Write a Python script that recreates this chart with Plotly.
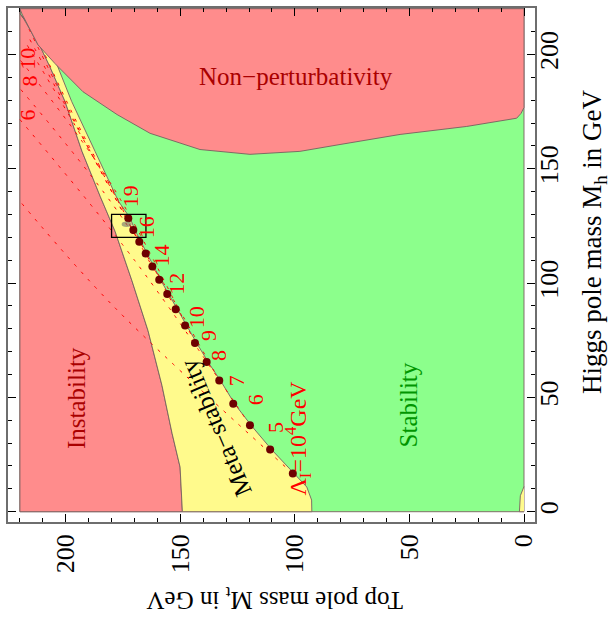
import plotly.graph_objects as go

# ---------------- data (Mt = top pole mass, Mh = Higgs pole mass, GeV) ----------------
# boundary instability / meta-stability (bottom -> top)
inst_mt = [149.1, 150.1, 153.6, 158.0, 164.1, 171.1, 178.5, 185.0, 192.9, 200.3, 206.9, 212.1, 216.5, 219.9]
inst_mh = [0.0, 19.5, 34.3, 55.2, 79.2, 101.0, 122.7, 138.0, 157.6, 179.4, 194.6, 205.5, 213.4, 217.7]

# boundary meta-stability / stability (bottom -> top)
stab_mt = [92.6, 92.7, 94.8, 99.9, 110.0, 118.7, 126.1, 132.2, 137.7, 142.7, 147.1, 151.2, 154.9,
           158.4, 161.5, 164.3, 167.1, 169.8, 171.9, 177.0, 187.2, 197.4, 206.1, 212.1, 215.6, 219.1]
stab_mh = [0.0, 5.1, 10.8, 16.5, 27.0, 37.3, 46.9, 56.9, 65.2, 73.5, 80.9, 88.3, 94.9,
           101.0, 107.1, 112.7, 117.9, 123.2, 128.4, 135.8, 157.6, 179.4, 201.2, 204.2, 210.8, 216.9]

# boundary of non-perturbativity (left -> right)
pert_mt = [219.1, 212.1, 204.7, 192.5, 177.6, 163.2, 148.8, 141.4, 119.6, 97.8, 80.3, 54.1, 25.0, 3.2, 1.3, 0.0]
pert_mh = [217.7, 204.2, 196.0, 183.7, 173.7, 165.5, 160.6, 158.4, 156.3, 157.6, 160.6, 165.0, 168.5, 172.1, 174.2, 176.8]

# small meta-stable sliver at Mt ~ 0
sliver_mt = [0.0, 2.0, 1.6, 0.0]
sliver_mh = [0.0, 0.0, 7.0, 11.0]

# instability scale log10(Lambda_I / GeV) at the dots on the stability boundary
dot_n = [19, 18, 17, 16, 15, 14, 13, 12, 11, 10, 9, 8, 7, 6, 5, 4]
dot_mt = [172.7, 170.5, 167.9, 165.1, 162.2, 159.2, 155.7, 152.0, 147.9, 143.6, 138.5, 133.0, 126.9, 119.6, 110.8, 100.9]
dot_mh = [128.3, 123.2, 118.1, 112.9, 107.2, 101.4, 95.2, 88.5, 81.4, 73.8, 65.5, 57.4, 47.2, 37.8, 27.2, 16.7]

# dashed contour levels of Lambda_I (from the dot towards the upper-left edge)
contour_n = [4, 6, 8, 10, 12, 14, 16, 19]
contour_mt = [[100.9, 179.4, 220.0], [119.6, 170.0, 220.0], [133.0, 175.0, 220.0], [143.6, 180.0, 220.0],
              [152.0, 185.0, 218.0], [159.2, 188.0, 217.0], [165.1, 190.0, 216.0], [172.7, 195.0, 215.0]]
contour_mh = [[16.7, 90.1, 135.8], [37.8, 110.0, 171.5], [57.4, 128.0, 185.1], [73.8, 143.0, 197.7],
              [88.5, 150.0, 206.0], [101.4, 155.0, 209.0], [112.9, 159.0, 211.0], [128.3, 170.0, 213.0]]

# labels of the contour levels
lab_text = ["19", "16", "14", "12", "10", "9", "8", "7", "6", "5"]
lab_mt = [171.9, 164.7, 158.1, 151.6, 142.8, 137.8, 133.4, 125.4, 117.4, 108.7]
lab_mh = [138.0, 124.2, 111.9, 99.5, 85.0, 77.0, 68.3, 57.4, 48.7, 37.0]
edge_text = ["10", "8", "6"]
edge_mt = [216.5, 215.6, 216.5]
edge_mh = [198.1, 188.1, 173.7]

# experimental box
box_mt = [165.0, 180.0]
box_mh = [120.0, 130.0]
exp_mt, exp_mh = 173.4, 125.7

RED = "rgb(255,140,140)"
GREEN = "rgb(140,255,140)"
YELLOW = "rgb(255,250,140)"
EDGE = "rgba(120,95,95,0.9)"
FONT = "Liberation Serif"

fig = go.Figure()

# green background (stability)
fig.add_trace(go.Scatter(x=[0, 220, 220, 0, 0], y=[0, 0, 220, 220, 0], fill="toself",
                         fillcolor=GREEN, line=dict(color=EDGE, width=1), mode="lines",
                         hoverinfo="skip", showlegend=False))
# instability
fig.add_trace(go.Scatter(x=[220] + inst_mt + [220, 220], y=[0] + inst_mh + [220, 0], fill="toself",
                         fillcolor=RED, line=dict(color=EDGE, width=1), mode="lines",
                         hoverinfo="skip", showlegend=False))
# meta-stability
fig.add_trace(go.Scatter(x=inst_mt + stab_mt[::-1] + [inst_mt[0]],
                         y=inst_mh + stab_mh[::-1] + [inst_mh[0]], fill="toself",
                         fillcolor=YELLOW, line=dict(color=EDGE, width=1), mode="lines",
                         hoverinfo="skip", showlegend=False))
fig.add_trace(go.Scatter(x=sliver_mt, y=sliver_mh, fill="toself",
                         fillcolor=YELLOW, line=dict(color=EDGE, width=1), mode="lines",
                         hoverinfo="skip", showlegend=False))

# dashed contours
for cx, cy in zip(contour_mt, contour_mh):
    fig.add_trace(go.Scatter(x=cx, y=cy, mode="lines", line=dict(color="red", width=1, dash="3px,7px"),
                             line_shape="spline", hoverinfo="skip", showlegend=False))

# non-perturbativity (drawn over the contours)
fig.add_trace(go.Scatter(x=[220] + pert_mt + [0, 220], y=[220] + pert_mh + [220, 220], fill="toself",
                         fillcolor=RED, line=dict(color=EDGE, width=1), mode="lines",
                         hoverinfo="skip", showlegend=False))

# dots
fig.add_trace(go.Scatter(x=dot_mt, y=dot_mh, mode="markers",
                         marker=dict(color="rgb(110,0,0)", size=8), hoverinfo="skip", showlegend=False))

fig.add_shape(type="rect", x0=box_mt[0], x1=box_mt[1], y0=box_mh[0], y1=box_mh[1],
              line=dict(color="black", width=1.3))
fig.add_shape(type="circle", x0=exp_mt - 2.2, x1=exp_mt + 2.2, y0=exp_mh - 1.2, y1=exp_mh + 1.2,
              fillcolor="rgba(110,110,110,0.6)", line=dict(width=0))

ann = []
for t, x, y in zip(lab_text, lab_mt, lab_mh):
    ann.append(dict(x=x, y=y, text=t, textangle=-90, font=dict(family=FONT, size=22, color="red")))
for t, x, y in zip(edge_text, edge_mt, edge_mh):
    ann.append(dict(x=x, y=y, text=t, textangle=-90, font=dict(family=FONT, size=22, color="red")))
ann.append(dict(x=98.5, y=32.1, text="Λ<sub>I</sub>=10<sup>4</sup>GeV", textangle=-90,
                font=dict(family=FONT, size=24, color="red")))
ann.append(dict(x=99.6, y=190.3, text="Non\u2212perturbativity",
                font=dict(family=FONT, size=25, color="rgb(170,0,0)")))
ann.append(dict(x=195.0, y=49.8, text="Instability", textangle=-90,
                font=dict(family=FONT, size=25, color="rgb(170,0,0)")))
ann.append(dict(x=50.6, y=46.5, text="Stability", textangle=-90,
                font=dict(family=FONT, size=25, color="rgb(0,150,0)")))
ann.append(dict(x=134.4, y=36.7, text="Meta\u2212stability", textangle=-113,
                font=dict(family=FONT, size=25, color="black")))
for a in ann:
    a.update(xref="x", yref="y", showarrow=False, xanchor="center", yanchor="middle")

W, H = 614, 626
L, R, T, B = 8, 79, 6, 104
PW, PH = W - L - R, H - T - B

def px(xp):
    return (xp - L) / PW

def py(yp):
    return 1 - (yp - T) / PH

# axis titles
ann.append(dict(x=px(275), y=py(599), xref="paper", yref="paper", text="Top pole mass M<sub>t</sub> in GeV",
                textangle=180, showarrow=False, xanchor="center", yanchor="middle",
                font=dict(family=FONT, size=25, color="black")))
ann.append(dict(x=px(594), y=py(241), xref="paper", yref="paper", text="Higgs pole mass M<sub>h</sub> in GeV",
                textangle=-90, showarrow=False, xanchor="center", yanchor="middle",
                font=dict(family=FONT, size=27, color="black")))

axis_common = dict(showgrid=False, zeroline=False, showline=True, linecolor="rgb(110,110,110)",
                   linewidth=1.5, mirror="ticks", ticks="inside", ticklen=8, tickwidth=1,
                   tickcolor="black", dtick=50, tick0=0,
                   minor=dict(dtick=10, ticks="inside", ticklen=4, tickcolor="black"),
                   tickangle=-90, tickfont=dict(family=FONT, size=26, color="black"))

fig.update_layout(
    width=W, height=H, margin=dict(l=L, r=R, t=T, b=B),
    paper_bgcolor="white", plot_bgcolor="white",
    xaxis=dict(range=[225.2, -4.8], **axis_common),
    yaxis=dict(range=[-4.5, 220.3], side="right", ticklabelstandoff=-10, **axis_common),
    annotations=ann,
)

fig.write_html("out.html", config={"displayModeBar": False},
               post_script="document.body.style.margin='0px';document.body.style.overflow='hidden';")
